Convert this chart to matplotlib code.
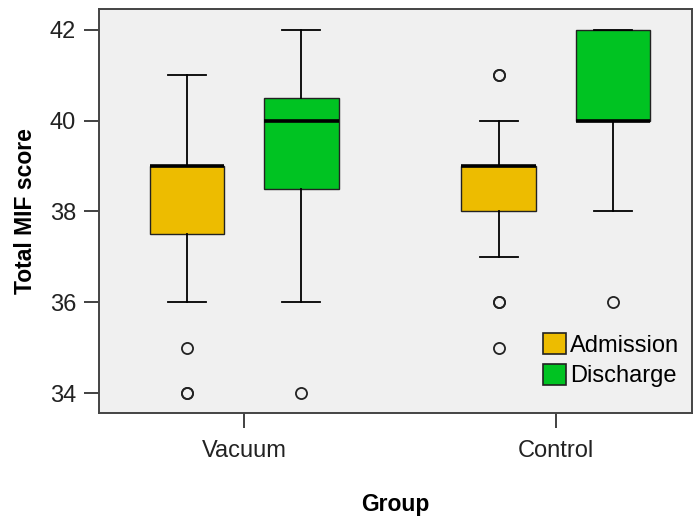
import matplotlib.pyplot as plt
from matplotlib.patches import Patch

plt.rcParams['font.family'] = ['Liberation Sans', 'DejaVu Sans']

# Данные
groups = ['Vacuum', 'Control']
series = ['Admission', 'Discharge']
colors = ['#EDBC00', '#00C322']

# для каждой группы: [Admission, Discharge]
whislo = [[36, 36], [37, 38]]
q1 = [[37.5, 38.5], [38, 40]]
med = [[39, 40], [39, 40]]
q3 = [[39, 40.5], [39, 42]]
whishi = [[41, 42], [40, 42]]
fliers = [[[35, 34, 34], [34]], [[41, 41, 36, 36, 35], [36]]]

y_ticks = [34, 36, 38, 40, 42]

fig = plt.figure(figsize=(6.94, 5.25), dpi=100)
ax = fig.add_axes([0.1427, 0.2133, 0.997 - 0.1427, 0.982 - 0.2133])
ax.set_facecolor('#F0F0F0')

offset = 0.183
width = 0.24
for g in range(len(groups)):
    for s in range(len(series)):
        stats = [{
            'whislo': whislo[g][s], 'q1': q1[g][s], 'med': med[g][s],
            'q3': q3[g][s], 'whishi': whishi[g][s], 'fliers': fliers[g][s],
        }]
        pos = g + (s - 0.5) * 2 * offset
        ax.bxp(stats, positions=[pos], widths=width, capwidths=width / 2,
               patch_artist=True, manage_ticks=False,
               boxprops=dict(facecolor=colors[s], edgecolor='#222222', linewidth=1.0),
               medianprops=dict(color='black', linewidth=2.6),
               whiskerprops=dict(color='black', linewidth=1.3),
               capprops=dict(color='black', linewidth=1.3),
               flierprops=dict(marker='o', markerfacecolor='none',
                               markeredgecolor='#222222', markersize=8,
                               markeredgewidth=1.3, linestyle='none'))

ax.set_xlim(-0.465, 1.436)
ax.set_ylim(33.56, 42.45)
ax.set_xticks(range(len(groups)))
ax.set_xticklabels(groups)
ax.set_yticks(y_ticks)

ax.tick_params(axis='both', direction='out', length=10.5, width=1.3,
               colors='#333333', labelsize=17, labelcolor='#222222')
ax.tick_params(axis='x', pad=9)
ax.tick_params(axis='y', pad=6)
for sp in ax.spines.values():
    sp.set_color('#444444')
    sp.set_linewidth(1.4)

ax.set_ylabel('Total MIF score', fontsize=16.5, fontweight='bold', labelpad=9)
ax.set_xlabel('Group', fontsize=16.5, fontweight='bold', labelpad=22)

handles = [Patch(facecolor=c, edgecolor='#222222', linewidth=1.2) for c in colors]
ax.legend(handles, series, loc='lower right', bbox_to_anchor=(0.995, 0.04),
          frameon=False, fontsize=17, handlelength=0.95, handleheight=1.0,
          handletextpad=0.2, labelspacing=0.3, borderaxespad=0)

fig.savefig('out.png', dpi=100)
